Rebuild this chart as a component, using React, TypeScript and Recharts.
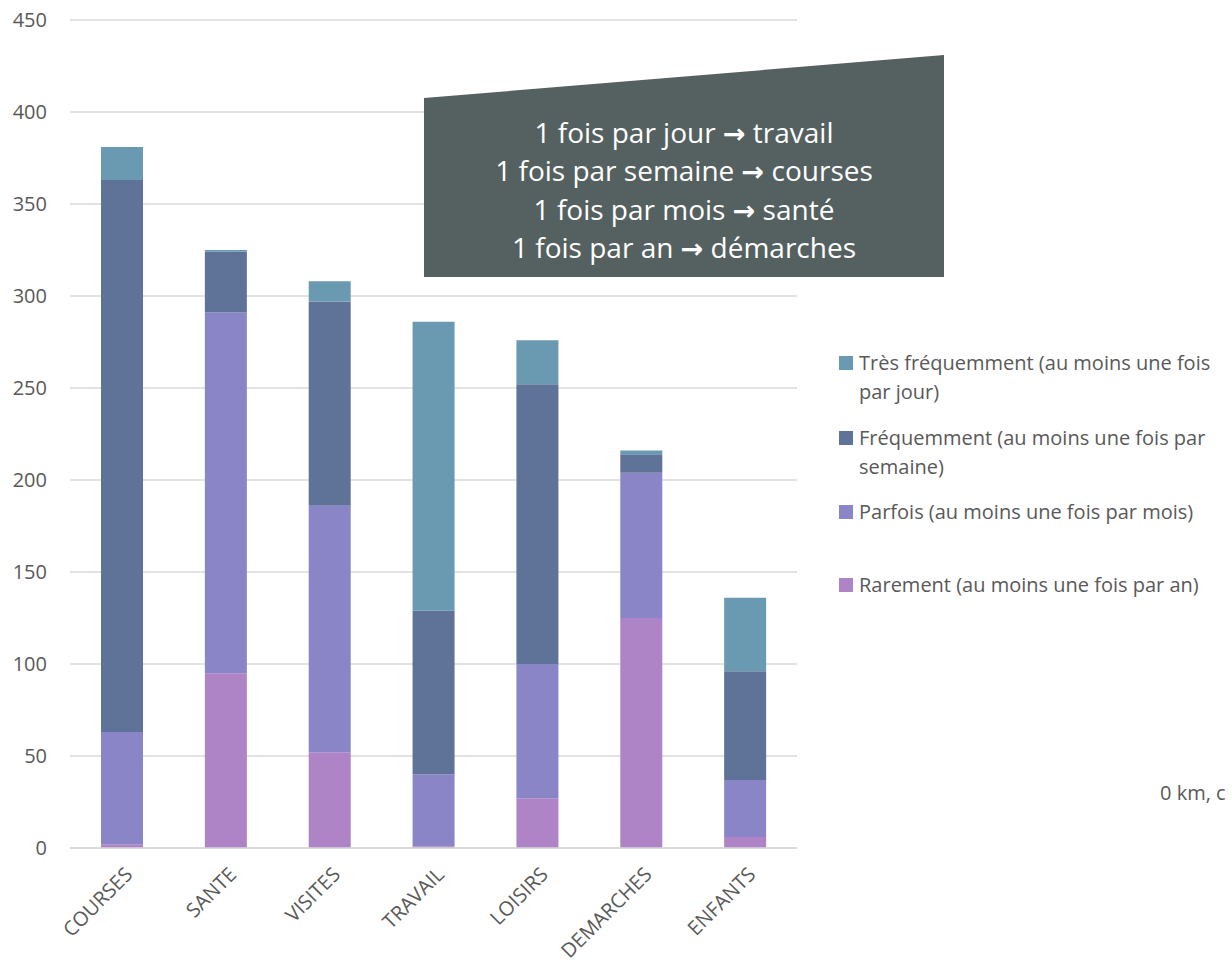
import React from 'react';
import { BarChart, Bar, XAxis, YAxis, CartesianGrid } from 'recharts';

const categories = ['COURSES', 'SANTE', 'VISITES', 'TRAVAIL', 'LOISIRS', 'DEMARCHES', 'ENFANTS'];
const rarement = [2, 95, 52, 1, 27, 125, 6];
const parfois = [61, 196, 134, 39, 73, 79, 31];
const frequemment = [300, 33, 111, 89, 152, 10, 59];
const tresFrequemment = [18, 1, 11, 157, 24, 2, 40];
const yTicks = [0, 50, 100, 150, 200, 250, 300, 350, 400, 450];

// [before arrow, after arrow]
const noteLines = [
  ['1 fois par jour ', ' travail'],
  ['1 fois par semaine ', ' courses'],
  ['1 fois par mois ', ' sant\u00e9'],
  ['1 fois par an ', ' d\u00e9marches'],
];

// legend order is the reverse of the stack
const series = [
  { key: 'tres', lines: ['Tr\u00e8s fr\u00e9quemment (au moins une fois', 'par jour)'], color: '#6a9ab1' },
  { key: 'freq', lines: ['Fr\u00e9quemment (au moins une fois par', 'semaine)'], color: '#5f7399' },
  { key: 'parfois', lines: ['Parfois (au moins une fois par mois)'], color: '#8985c6' },
  { key: 'rare', lines: ['Rarement (au moins une fois par an)'], color: '#ae84c6' },
];
const legendCenters = [363, 438, 512, 585];

const data = categories.map((c, i) => ({
  name: c,
  rare: rarement[i],
  parfois: parfois[i],
  freq: frequemment[i],
  tres: tresFrequemment[i],
}));

const FONT = '"Open Sans", "Noto Sans", sans-serif';
const TEXT = '#595959';

const XTick = (props: any) => {
  const { x, y, payload } = props;
  return (
    <g transform={`translate(${x + 8},${y + 16})`}>
      <text transform="rotate(-45)" textAnchor="end" dominantBaseline="middle" fill={TEXT} fontSize={20} fontFamily={FONT}>
        {payload.value}
      </text>
    </g>
  );
};

export default function App() {
  return (
    <div style={{ position: 'relative', width: 1232, height: 968, background: '#fff', overflow: 'hidden' }}>
      <style>{'body{margin:0}'}</style>
      <BarChart
        width={1232}
        height={968}
        data={data}
        margin={{ top: 20, right: 435, left: 10, bottom: 10 }}
        barSize={42}
      >
        <CartesianGrid vertical={false} stroke="#d9d9d9" strokeWidth={1.5} />
        <XAxis
          dataKey="name"
          interval={0}
          height={110}
          tickLine={false}
          axisLine={{ stroke: '#d9d9d9', strokeWidth: 1.5 }}
          tick={<XTick />}
        />
        <YAxis
          domain={[0, 450]}
          ticks={yTicks}
          width={60}
          tickLine={false}
          axisLine={false}
          tickSize={0}
          tickMargin={23}
          tick={{ fill: TEXT, fontSize: 20, fontFamily: FONT }}
        />
        <Bar dataKey="rare" stackId="a" fill="#ae84c6" isAnimationActive={false} />
        <Bar dataKey="parfois" stackId="a" fill="#8985c6" isAnimationActive={false} />
        <Bar dataKey="freq" stackId="a" fill="#5f7399" isAnimationActive={false} />
        <Bar dataKey="tres" stackId="a" fill="#6a9ab1" isAnimationActive={false} />
      </BarChart>
      <div style={{ position: 'absolute', left: 839, top: 0, fontFamily: FONT, fontSize: 20, color: TEXT }}>
        {series.map((s, i) => (
          <div key={s.key} style={{ position: 'absolute', left: 0, top: legendCenters[i] - 15, lineHeight: '29px' }}>
            <span style={{ position: 'absolute', left: 0, top: 8, width: 14, height: 14, background: s.color }} />
            {s.lines.map((l) => (
              <div key={l} style={{ marginLeft: 20, whiteSpace: 'nowrap' }}>{l}</div>
            ))}
          </div>
        ))}
      </div>
      <svg width={1232} height={968} style={{ position: 'absolute', left: 0, top: 0, pointerEvents: 'none' }}>
        <polygon points="424,98 944,55 944,277 424,277" fill="#546160" />
        {noteLines.map((l, i) => (
          <text key={l[0]} x={684} y={143 + i * 38.3} textAnchor="middle" fill="#ffffff" fontSize={28} fontFamily={FONT}>
            {l[0]}
            <tspan fontFamily="DejaVu Sans" fontWeight="bold" fontSize={27}>{'\u2192'}</tspan>
            {l[1]}
          </text>
        ))}
        <text x={1160} y={800} fill={TEXT} fontSize={20} fontFamily={FONT}>0 km, c</text>
      </svg>
    </div>
  );
}
